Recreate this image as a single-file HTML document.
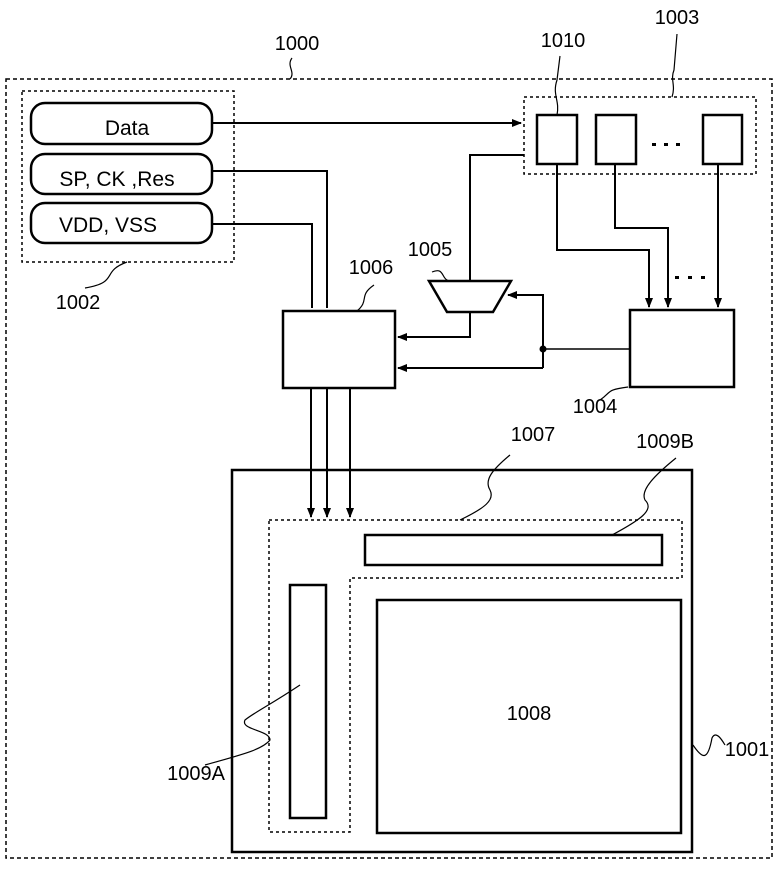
<!DOCTYPE html>
<html><head><style>
body{margin:0;background:#fff;}
svg text{font-family:"Liberation Sans",sans-serif;fill:#000;}
</style></head><body>
<svg width="781" height="865" viewBox="0 0 781 865" xmlns="http://www.w3.org/2000/svg">
<defs>
<marker id="a" markerWidth="10" markerHeight="10" refX="9" refY="5" orient="auto" markerUnits="userSpaceOnUse">
<path d="M0,1 L10,5 L0,9 Z" fill="#000"/></marker>
</defs>
<g fill="none" stroke="#000">
<rect x="6" y="79" width="766" height="779" stroke-width="1.5" stroke-dasharray="4,3"/>
<rect x="22" y="91" width="212" height="171" stroke-width="1.5" stroke-dasharray="3,3"/>
<rect x="524" y="97" width="232" height="77" stroke-width="1.5" stroke-dasharray="3,3"/>
<path d="M269,520 H682 V578 H350 V832 H269 Z" stroke-width="1.5" stroke-dasharray="3,3"/>
<g stroke-width="2.5">
<rect x="31" y="103" width="181" height="41" rx="14"/>
<rect x="31" y="154" width="181" height="40" rx="14"/>
<rect x="31" y="203" width="181" height="40" rx="14"/>
<rect x="537" y="115" width="40" height="49"/>
<rect x="596" y="115" width="40" height="49"/>
<rect x="703" y="115" width="39" height="49"/>
<rect x="283" y="311" width="112" height="77"/>
<rect x="630" y="310" width="104" height="77"/>
<path d="M429,281 H511 L493,312 H447 Z"/>
<rect x="232" y="470" width="460" height="382"/>
<rect x="365" y="535" width="297" height="30"/>
<rect x="290" y="585" width="36" height="233"/>
<rect x="377" y="600" width="304" height="233"/>
</g>
<g stroke-width="2">
<path d="M212,123 H521" marker-end="url(#a)"/>
<path d="M212,171 H327 V308" />
<path d="M212,224 H312 V308"/>
<path d="M470,281 V155 H524"/>
<path d="M470,312 V337 H398" marker-end="url(#a)"/>
<path d="M543,368 V295 H508" marker-end="url(#a)"/>
<path d="M543,368 H398" marker-end="url(#a)"/>
<path d="M630,349 H543" stroke-width="1.5"/>
<path d="M557,164 V250 H649 V307" marker-end="url(#a)"/>
<path d="M615,164 V228 H668 V307" marker-end="url(#a)"/>
<path d="M718,164 V307" marker-end="url(#a)"/>
<path d="M311,388 V517" marker-end="url(#a)"/>
<path d="M327,388 V517" marker-end="url(#a)"/>
<path d="M350,388 V517" marker-end="url(#a)"/>
</g>
<g stroke-width="1.2">
<path d="M290,79 C296,72 286,66 292,58"/>
<path d="M557,115 C560,100 552,95 557,80 L560,56"/>
<path d="M672,97 C676,85 670,80 674,70 L677,34"/>
<path d="M127,262 C100,272 120,282 85,288"/>
<path d="M357,311 C370,300 358,296 374,285"/>
<path d="M432,272 C446,266 440,282 452,281"/>
<path d="M600,400 C612,392 605,390 628,387"/>
<path d="M460,520 C485,508 495,500 490,490 C484,480 492,470 510,455"/>
<path d="M676,458 C655,475 640,490 645,500 C655,510 640,520 612,535"/>
<path d="M300,685 C270,705 255,712 245,720 C240,730 270,730 270,740 C262,750 240,755 205,765"/>
<path d="M693,745 C703,760 708,760 712,738 C716,730 722,740 725,745"/>
</g>
<circle cx="543" cy="349" r="3.5" fill="#000" stroke="none"/>
</g>
<g fill="#000">
<rect x="652" y="143" width="4" height="3"/><rect x="664" y="143" width="4" height="3"/><rect x="676" y="143" width="4" height="3"/>
<rect x="675" y="276" width="4" height="3"/><rect x="688" y="276" width="4" height="3"/><rect x="701" y="276" width="4" height="3"/>
</g>
<g font-size="20">
<text x="127" y="135" text-anchor="middle" font-size="21">Data</text>
<text x="117" y="186" text-anchor="middle" font-size="21">SP, CK ,Res</text>
<text x="108" y="232" text-anchor="middle" font-size="21">VDD, VSS</text>
<text x="297" y="50" text-anchor="middle">1000</text>
<text x="563" y="47" text-anchor="middle">1010</text>
<text x="677" y="24" text-anchor="middle">1003</text>
<text x="78" y="309" text-anchor="middle">1002</text>
<text x="371" y="274" text-anchor="middle">1006</text>
<text x="430" y="256" text-anchor="middle">1005</text>
<text x="595" y="413" text-anchor="middle">1004</text>
<text x="533" y="441" text-anchor="middle">1007</text>
<text x="665" y="448" text-anchor="middle">1009B</text>
<text x="529" y="720" text-anchor="middle">1008</text>
<text x="196" y="780" text-anchor="middle">1009A</text>
<text x="747" y="756" text-anchor="middle">1001</text>
</g>
</svg>
</body></html>
